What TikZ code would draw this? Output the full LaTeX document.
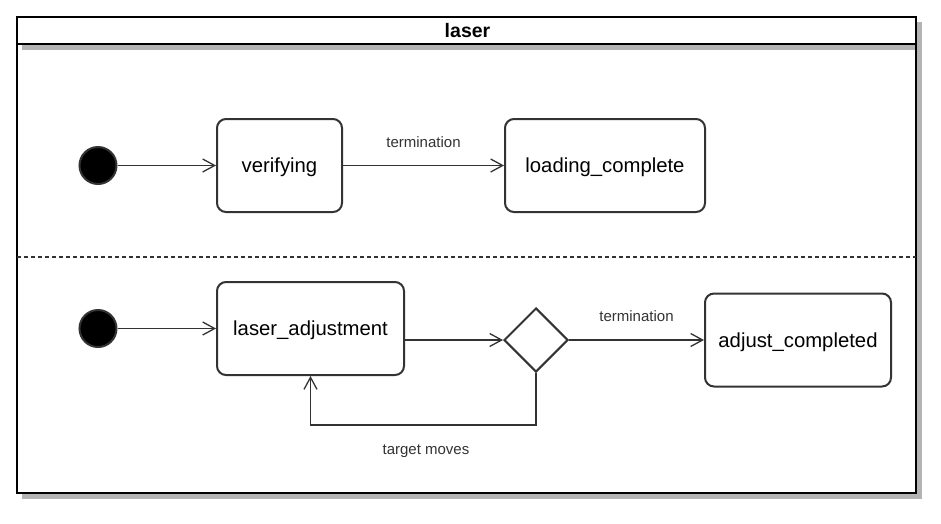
\documentclass[tikz,border=0pt]{standalone}
\usepackage{fontspec}
\setmainfont{Liberation Sans}
\usetikzlibrary{arrows.meta,shapes.geometric}
\definecolor{ln}{HTML}{333333}
\definecolor{shd}{HTML}{B4B4B4}
\tikzset{
  state/.style={draw=ln, line width=2pt, rounded corners=9pt, fill=white, font=\fontsize{20.3}{24}\selectfont, inner sep=0pt, text depth=0pt},
  init/.style={circle, draw=ln, line width=2pt, fill=black, minimum size=37pt, inner sep=0pt},
  choice/.style={diamond, draw=ln, line width=2pt, fill=white, minimum width=64pt, minimum height=64pt, inner sep=0pt},
  conn/.style={draw=ln, line width=1.3pt, -{Straight Barb[length=12pt,width=13pt]}},
  lbl/.style={font=\fontsize{15}{18}\selectfont, text=ln, inner sep=0pt}
}
\begin{document}
\begin{tikzpicture}[x=1pt,y=-1pt]
\useasboundingbox (0,0) rectangle (941,523);
% frame with shadow
\fill[shd] (22,22) rectangle (922,499);
\filldraw[fill=white, draw=black, line width=2.5pt] (17,17) rectangle (916,493);
\fill[shd] (22,45) rectangle (915,50);
\draw[black, line width=2.5pt] (17,44) -- (916,44);
\draw[black, line width=2.5pt] (17,17) rectangle (916,493);
\node[font=\bfseries\fontsize{19.5}{22}\selectfont] (title) at (467.5,31) {laser};
% region divider
\draw[ln, line width=1.2pt, dash pattern=on 4pt off 3pt] (17,257) -- (916,257);
% upper region
\node[init] (i1) at (98,165.5) {};
\node[state, minimum width=125pt, minimum height=93pt] (ver) at (279.5,165.5) {verifying};
\node[state, minimum width=200pt, minimum height=93pt] (lc) at (605,165.5) {loading\_complete};
\draw[conn] (i1) -- (ver);
\draw[conn] (ver) -- node[lbl, above=17pt] (t1) {termination} (lc);
% lower region
\node[init] (i2) at (98,328.5) {};
\node[state, minimum width=187pt, minimum height=93pt] (la) at (310.5,328.5) {laser\_adjustment};
\node[choice] (d) at (536,340) {};
\node[state, minimum width=186pt, minimum height=93pt] (ac) at (798,340) {adjust\_completed};
\draw[conn] (i2) -- (la);
\draw[conn] (d.west -| la.east) -- (d.west);
\draw[conn] (d.east) -- node[lbl, above=18pt] (t2) {termination} (d.east -| ac.west);
\coordinate (lp) at (536,425);
\draw[conn] (d.south) -- (lp) -| (la.south);
\node[lbl] (t3) at (426,451) {target moves};
\end{tikzpicture}
\end{document}
